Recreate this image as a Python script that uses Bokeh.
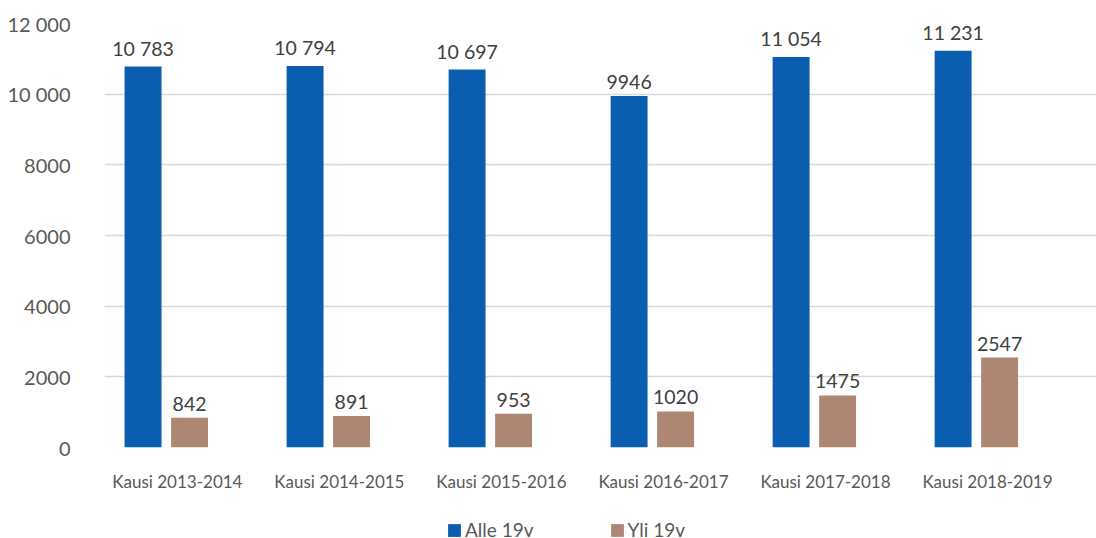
from bokeh.plotting import figure
from bokeh.layouts import column
from bokeh.models import ColumnDataSource, FixedTicker, Legend, LegendItem, Range1d
from bokeh.core.properties import value
from bokeh.embed import file_html
from bokeh.resources import INLINE

categories = ["Kausi 2013-2014", "Kausi 2014-2015", "Kausi 2015-2016",
              "Kausi 2016-2017", "Kausi 2017-2018", "Kausi 2018-2019"]
alle_19v = [10783, 10794, 10697, 9946, 11054, 11231]
yli_19v = [842, 891, 953, 1020, 1475, 2547]
series_names = ["Alle 19v", "Yli 19v"]
y_ticks = [0, 2000, 4000, 6000, 8000, 10000, 12000]

BLUE = "#0B5DAF"
BROWN = "#AD8773"
FONT = "Lato"


def fmt(v):
    s = str(int(v))
    if v >= 10000:
        s = s[:-3] + " " + s[-3:]
    return s


n = len(categories)
centers = [i + 0.5 for i in range(n)]
bar_w = 0.228
blue_x = [c - 0.262 for c in centers]
brown_x = [c + 0.025 for c in centers]

src_a = ColumnDataSource(dict(x=blue_x, top=alle_19v, lab=[fmt(v) for v in alle_19v]))
src_b = ColumnDataSource(dict(x=brown_x, top=yli_19v, lab=[fmt(v) for v in yli_19v]))

p = figure(width=1096, height=497, output_backend="svg", toolbar_location=None,
           x_range=Range1d(0, 6.123), y_range=Range1d(0, 12000),
           min_border_left=104, min_border_right=0, min_border_top=23, min_border_bottom=50)
p.outline_line_color = None
p.background_fill_color = "white"
p.border_fill_color = "white"

r_a = p.vbar(x="x", top="top", width=bar_w, source=src_a, fill_color=BLUE, line_color=None)
r_b = p.vbar(x="x", top="top", width=bar_w, source=src_b, fill_color=BROWN, line_color=None)

for src in (src_a, src_b):
    p.text(x="x", y="top", text="lab", source=src, text_align="center", text_baseline="bottom",
           y_offset=-7, text_font=value(FONT), text_font_size="19.5px", text_color="#404040")

# axes
p.yaxis.ticker = FixedTicker(ticks=y_ticks)
p.yaxis.major_label_overrides = {t: fmt(t) for t in y_ticks}
p.yaxis.axis_line_color = None
p.yaxis.major_tick_line_color = None
p.yaxis.minor_tick_line_color = None
p.yaxis.major_tick_out = 0
p.yaxis.major_tick_in = 0
p.yaxis.major_label_standoff = 34
p.yaxis.major_label_text_font = FONT
p.yaxis.major_label_text_font_size = "20px"
p.yaxis.major_label_text_color = "#595959"

tick_pos = [c - 0.05 for c in centers]
p.xaxis.ticker = FixedTicker(ticks=tick_pos)
p.xaxis.major_label_overrides = {t: c for t, c in zip(tick_pos, categories)}
p.xaxis.axis_line_color = None
p.xaxis.major_tick_line_color = None
p.xaxis.minor_tick_line_color = None
p.xaxis.major_tick_out = 0
p.xaxis.major_tick_in = 0
p.xaxis.major_label_standoff = 23
p.xaxis.major_label_text_font = FONT
p.xaxis.major_label_text_font_size = "17px"
p.xaxis.major_label_text_color = "#595959"

p.xgrid.grid_line_color = None
p.ygrid.grid_line_color = "#D9D9D9"
p.ygrid.grid_line_width = 1.5

# legend strip below the chart
lg = figure(width=1096, height=40, output_backend="svg", toolbar_location=None,
            x_axis_type=None, y_axis_type=None, x_range=Range1d(0, 1), y_range=Range1d(0, 1),
            min_border_left=104, min_border_right=0, min_border_top=0, min_border_bottom=0)
lg.outline_line_color = None
lg.xgrid.grid_line_color = None
lg.ygrid.grid_line_color = None
la = lg.vbar(x=[0.5], top=[0], bottom=[0], width=0.0, fill_color=BLUE, line_color=None)
lb = lg.vbar(x=[0.5], top=[0], bottom=[0], width=0.0, fill_color=BROWN, line_color=None)
legend = Legend(items=[LegendItem(label=series_names[0], renderers=[la]),
                       LegendItem(label=series_names[1], renderers=[lb])],
                orientation="horizontal", location=(342, -4),
                label_text_font=FONT, label_text_font_size="19px", label_text_color="#595959",
                glyph_width=16, glyph_height=16, spacing=75, padding=0, margin=0,
                label_standoff=3,
                border_line_color=None, background_fill_alpha=0)
lg.add_layout(legend, "center")

layout = column(p, lg, spacing=0)
open("out.html", "w").write(file_html(layout, INLINE))
